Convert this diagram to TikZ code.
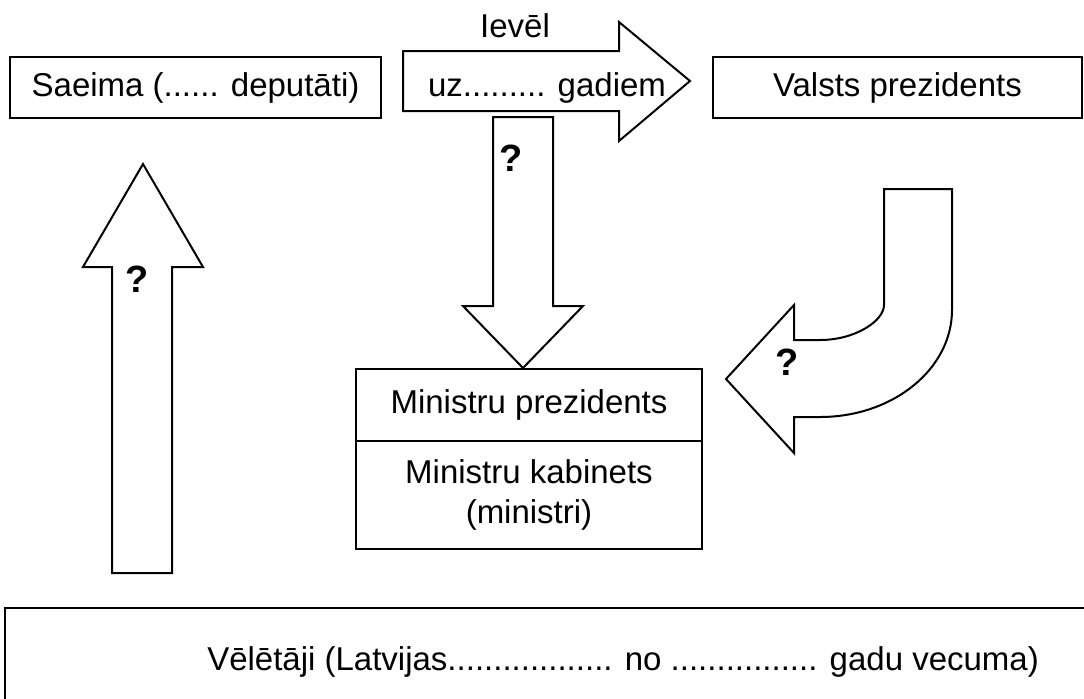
\documentclass[tikz,border=0pt]{standalone}
\usepackage{fontspec}
\setmainfont{Liberation Sans}

\begin{document}
\begin{tikzpicture}[
	x=0.5pt, y=-0.5pt,
	line width=1pt,
	every node/.style={font=\fontsize{16.5}{20}\selectfont},
	box/.style={rectangle, draw, text centered, inner sep=0pt, outer sep=0pt},
	blockarrow/.style={draw, fill=white, line join=miter},
	qmark/.style={font=\fontsize{19}{22}\selectfont\bfseries},
	]
	\clip (0,0) rectangle (1084,698);

	% boxes
	\node [box, minimum width=185.5pt, minimum height=30.5pt] (saeima) at (195.5,87.5) {Saeima (...... deputāti)};
	\node [box, minimum width=184.5pt, minimum height=30.5pt] (prez) at (897.5,87.5) {Valsts prezidents};
	\node [box, minimum width=173pt, minimum height=36pt] (mp) at (529,405) {Ministru prezidents};
	\node [box, minimum width=173pt, minimum height=54pt, align=center, anchor=north] (mk) at (mp.south) {Ministru kabinets\\(ministri)};
	\draw (5,608) rectangle (1110,720);
	\node (vel) at (623,662) {Vēlētāji (Latvijas.................. no ................ gadu vecuma)};

	% top arrow
	\draw [blockarrow] (403,51) -- (619,51) -- (619,22) -- (690,81) -- (619,141) -- (619,111) -- (403,111) -- cycle;
	\node (ievel) at (515,26) {Ievēl};
	\node (uz) at (547,88) {uz......... gadiem};

	% down arrow
	\draw [blockarrow] (493,117) -- (553,117) -- (553,306) -- (583,306) -- (523,368) -- (463,306) -- (493,306) -- cycle;
	\node [qmark] (q1) at (511,158) {?};

	% up arrow
	\draw [blockarrow] (112,573) -- (112,267) -- (83,267) -- (143,164) -- (203,267) -- (172,267) -- (172,573) -- cycle;
	\node [qmark] (q2) at (137,279) {?};

	% curved arrow
	\draw [blockarrow] (884,189) -- (952,189) -- (952,310)
		.. controls (952,369) and (893,417) .. (820,417) -- (794,417) -- (794,453)
		-- (726,379) -- (794,305) -- (794,340) -- (820,340)
		.. controls (855,340) and (884,321) .. (884,305) -- cycle;
	\node [qmark] (q3) at (787,362) {?};
\end{tikzpicture}
\end{document}
